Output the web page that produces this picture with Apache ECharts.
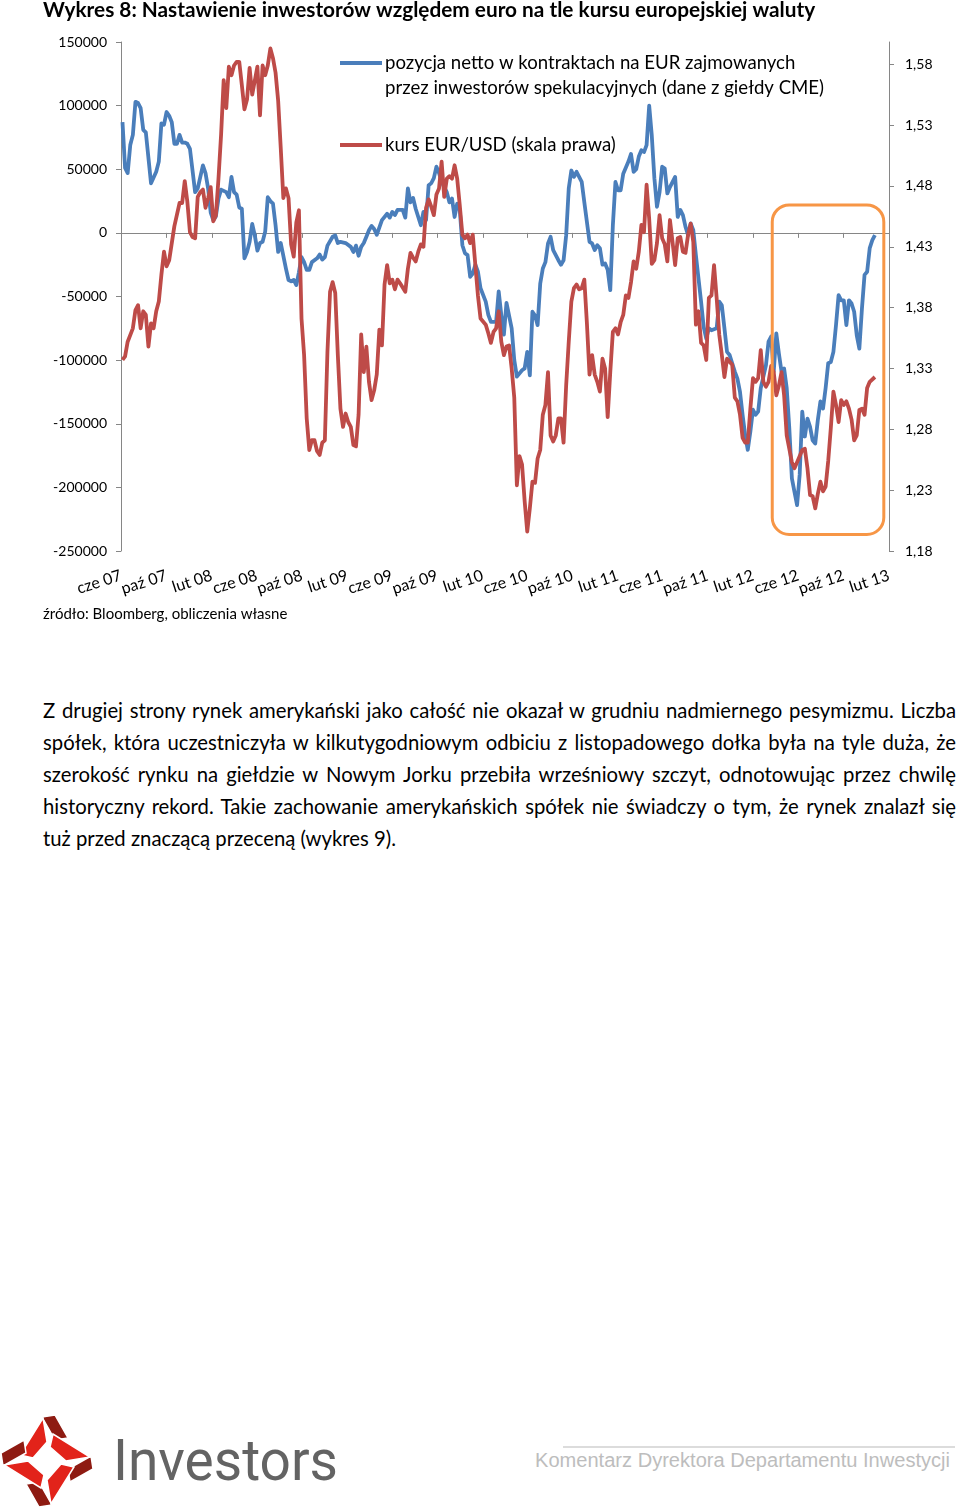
<!DOCTYPE html>
<html>
<head>
<meta charset="utf-8">
<title>Wykres 8</title>
<script src="https://cdn.jsdelivr.net/npm/echarts@6/dist/echarts.min.js"></script>
<style>
body{margin:0;width:960px;height:1509px;background:#fff;position:relative;overflow:hidden;font-family:Lato,"Noto Sans",sans-serif;}
#wykres{position:absolute;left:0;top:0;width:960px;height:640px;}
.tekst{position:absolute;left:43px;top:694px;width:913px;font-size:20.3px;line-height:32px;color:#000;}
.tekst div{text-align:justify;text-align-last:justify;white-space:nowrap;}
.tekst div.ost{text-align-last:left;}
#logo{position:absolute;left:0;top:1405px;}
#stopka{position:absolute;left:520px;top:1430px;}
</style>
</head>
<body>
<div id="wykres"></div>
<div class="tekst">
  <div>Z drugiej strony rynek amerykański jako całość nie okazał w grudniu nadmiernego pesymizmu. Liczba</div>
  <div>spółek, która uczestniczyła w kilkutygodniowym odbiciu z listopadowego dołka była na tyle duża, że</div>
  <div>szerokość rynku na giełdzie w Nowym Jorku przebiła wrześniowy szczyt, odnotowując przez chwilę</div>
  <div>historyczny rekord. Takie zachowanie amerykańskich spółek nie świadczy o tym, że rynek znalazł się</div>
  <div class="ost">tuż przed znaczącą przeceną (wykres 9).</div>
</div>
<svg id="logo" width="350" height="104">
  <g transform="translate(47,56)" stroke="#fff" stroke-width="1.5">
    <g><polygon points="-5,-44 8,-46 21,-23 8,-21" fill="#8E1B12"/><polygon points="-4,-43 -27,-6 -14,-3 0,-19" fill="#E2231A"/></g>
    <g transform="rotate(90)"><polygon points="-5,-44 8,-46 21,-23 8,-21" fill="#8E1B12"/><polygon points="-4,-43 -27,-6 -14,-3 0,-19" fill="#E2231A"/></g>
    <g transform="rotate(180)"><polygon points="-5,-44 8,-46 21,-23 8,-21" fill="#8E1B12"/><polygon points="-4,-43 -27,-6 -14,-3 0,-19" fill="#E2231A"/></g>
    <g transform="rotate(270)"><polygon points="-5,-44 8,-46 21,-23 8,-21" fill="#8E1B12"/><polygon points="-4,-43 -27,-6 -14,-3 0,-19" fill="#E2231A"/></g>
  </g>
  <text x="113" y="75" font-family="Roboto" font-size="58" fill="#636363" textLength="225" lengthAdjust="spacingAndGlyphs">Investors</text>
</svg>
<svg id="stopka" width="440" height="60">
  <line x1="43" y1="17" x2="435" y2="17" stroke="#dcdcdc" stroke-width="2"/>
  <text x="15" y="37" font-family="Liberation Sans" font-size="19.5" fill="#bdbdbd" textLength="415" lengthAdjust="spacingAndGlyphs">Komentarz Dyrektora Departamentu Inwestycji</text>
</svg>
<script>
// tygodnie liczone od 2007-06-05 (dane tygodniowe)
var blueWeek = [0,1,2,3,4,5,6,7,8,9,11,13,14,15,16,17,18,19,20,21,22,23,24,25,26,28,29,31,32,33,34,35,36,37,38,40,41,42,43,44,45,46,47,48,49,50,51,52,53,54,55,56,57,58,59,60,61,62,63,64,65,66,67,68,69,70,71,72,73,75,76,77,78,79,81,82,83,84,86,88,89,90,91,92,93,94,95,96,97,98,100,102,103,104,105,106,108,109,110,111,112,113,115,116,117,118,119,120,121,122,123,125,126,127,128,129,130,131,132,133,134,135,136,137,138,140,141,142,144,145,146,147,148,150,151,152,154,155,156,157,158,159,160,161,162,163,164,165,166,168,169,170,171,172,173,174,175,177,178,179,180,181,182,183,184,185,186,187,188,189,190,191,192,193,195,196,197,198,199,200,201,202,203,204,205,206,207,208,209,210,211,213,214,215,216,217,218,219,220,221,223,224,225,226,227,229,230,231,232,233,234,236,237,238,239,240,241,242,243,244,245,246,248,249,250,251,252,253,254,255,256,257,258,259,260,261,262,263,264,265,266,267,268,269,270,271,272,273,274,275,276,277,278,279,280,281,282,283,284,285,286,287,288,289,290];
var blueVal = [87000,51000,47000,69000,77000,103000,102000,98000,81000,79000,39000,48000,56000,86000,85000,95000,92000,87000,70000,70000,77000,71000,71000,70000,66000,32000,35000,53000,47000,35000,16000,10000,13000,27000,34000,32000,28000,44000,32000,30000,20000,19000,-20000,-15000,-7000,7000,-2000,-14000,-8000,-7000,1000,28000,25000,23000,6000,-15000,-8000,-18000,-28000,-37000,-38000,-37000,-41000,-31000,-19000,-23000,-29000,-29000,-23000,-20000,-17000,-21000,-19000,-10000,-3000,-2000,-8000,-7000,-8000,-11000,-15000,-10000,-18000,-11000,-8000,-3000,2000,5500,3000,-1500,10000,15000,12000,16500,14000,18000,18000,12000,35000,24000,27500,19000,6000,16500,10000,37500,39000,43000,52000,47000,40000,32000,24000,27000,12500,23000,18000,-9700,-16000,-17500,-34500,-32000,-25000,-30500,-43500,-54000,-64500,-70000,-70000,-46000,-64500,-80000,-55000,-75000,-100000,-113000,-108000,-106500,-93500,-112000,-62000,-65000,-72500,-40000,-28000,-23000,-8300,-3100,-13500,-21500,-25000,-21500,-2000,35000,49000,44000,48000,40000,24000,8600,-7000,-8300,-13500,-9700,-12000,-25000,-24000,-29000,-45000,6000,40000,33500,33500,46500,56000,62000,48000,50000,60000,65000,63500,69000,100000,76500,43000,20500,32000,52000,50500,31000,36000,44000,12500,18000,14000,4700,-1800,7400,2100,-17500,-54000,-74000,-83000,-75000,-76500,-75000,-54000,-57000,-75000,-93500,-96000,-109000,-114500,-125000,-143000,-159000,-170500,-156000,-139000,-143000,-140500,-122000,-104000,-85500,-81500,-109000,-79000,-95000,-109000,-106500,-122000,-153500,-193000,-203500,-214000,-190000,-140500,-160000,-146000,-152500,-163000,-165500,-147000,-132500,-138000,-122000,-102500,-101500,-93500,-72500,-49000,-53000,-53000,-72500,-53000,-55500,-62000,-80500,-91000,-59500,-33000,-30500,-12000,-5700,-1800];

var redWeek = [0,1,2,4,5,6,7,8,9,10,11,12,13,14,15,16,17,18,19,20,22,23,24,25,26,27,28,29,30,31,32,33,34,35,36,37,38,39,40,41,42,43,44,45,46,47,48,49,50,52,53,54,55,56,57,58,59,60,61,62,63,64,65,66,67,68,69,70,71,72,73,74,75,76,77,78,79,80,81,82,83,84,85,86,87,88,89,90,91,92,93,94,95,96,97,98,99,100,101,102,103,104,105,106,107,109,110,111,112,113,114,115,116,117,118,119,120,121,122,123,124,125,126,127,128,129,130,131,132,133,134,135,136,137,138,140,141,142,143,144,145,146,147,148,149,150,151,152,153,154,155,156,157,158,159,160,161,162,163,164,165,166,167,168,169,170,171,172,173,174,175,176,177,178,179,180,181,182,183,184,185,186,187,188,189,190,191,192,193,194,195,196,197,198,199,200,201,202,203,204,205,206,207,208,209,210,211,212,213,214,215,216,217,218,219,220,221,222,223,224,225,226,227,228,229,230,231,232,233,235,236,237,238,239,240,241,242,243,244,245,246,247,248,249,250,251,252,253,254,255,256,258,259,260,262,263,264,265,266,267,268,269,270,271,272,273,274,275,276,277,278,279,280,281,282,283,284,285,286,287,288,290];
var redVal = [1.337,1.340,1.352,1.363,1.378,1.382,1.363,1.377,1.374,1.348,1.367,1.363,1.377,1.385,1.407,1.426,1.414,1.419,1.433,1.447,1.466,1.466,1.484,1.467,1.442,1.438,1.437,1.471,1.475,1.477,1.462,1.470,1.479,1.451,1.456,1.486,1.522,1.567,1.544,1.578,1.571,1.579,1.582,1.582,1.563,1.543,1.551,1.577,1.555,1.578,1.538,1.579,1.571,1.579,1.593,1.585,1.573,1.550,1.511,1.470,1.478,1.470,1.432,1.422,1.450,1.460,1.371,1.341,1.289,1.263,1.271,1.271,1.262,1.259,1.269,1.271,1.344,1.393,1.401,1.392,1.341,1.297,1.282,1.293,1.286,1.282,1.267,1.266,1.292,1.358,1.327,1.348,1.319,1.304,1.312,1.325,1.362,1.349,1.399,1.415,1.400,1.403,1.395,1.403,1.400,1.393,1.412,1.425,1.421,1.418,1.426,1.432,1.430,1.462,1.469,1.463,1.456,1.473,1.478,1.500,1.471,1.486,1.488,1.486,1.497,1.486,1.464,1.440,1.437,1.440,1.433,1.440,1.415,1.390,1.371,1.366,1.359,1.351,1.360,1.363,1.377,1.352,1.341,1.348,1.349,1.330,1.306,1.234,1.258,1.251,1.221,1.196,1.215,1.237,1.236,1.256,1.263,1.292,1.300,1.327,1.275,1.270,1.275,1.289,1.289,1.269,1.316,1.352,1.385,1.396,1.399,1.395,1.396,1.403,1.367,1.325,1.341,1.325,1.319,1.311,1.338,1.330,1.290,1.327,1.360,1.363,1.358,1.368,1.374,1.390,1.388,1.401,1.418,1.412,1.426,1.448,1.442,1.481,1.453,1.416,1.419,1.433,1.456,1.437,1.432,1.418,1.452,1.434,1.415,1.437,1.438,1.426,1.425,1.440,1.449,1.434,1.366,1.377,1.351,1.349,1.337,1.388,1.390,1.415,1.388,1.358,1.341,1.323,1.338,1.333,1.306,1.303,1.292,1.273,1.269,1.269,1.297,1.322,1.319,1.322,1.345,1.319,1.315,1.319,1.332,1.327,1.308,1.316,1.327,1.308,1.275,1.253,1.248,1.253,1.263,1.264,1.248,1.226,1.225,1.215,1.227,1.237,1.229,1.233,1.254,1.281,1.311,1.300,1.286,1.304,1.300,1.303,1.297,1.288,1.271,1.275,1.296,1.297,1.292,1.314,1.319,1.323];

var tickDates = ['2007-06-01','2007-10-01','2008-02-01','2008-06-01','2008-10-01','2009-02-01','2009-06-01','2009-10-01','2010-02-01','2010-06-01','2010-10-01','2011-02-01','2011-06-01','2011-10-01','2012-02-01','2012-06-01','2012-10-01','2013-02-01'];
var tickLabels = ['cze 07','paź 07','lut 08','cze 08','paź 08','lut 09','cze 09','paź 09','lut 10','cze 10','paź 10','lut 11','cze 11','paź 11','lut 12','cze 12','paź 12','lut 13'];
var rightTicks = [1.18,1.23,1.28,1.33,1.38,1.43,1.48,1.53,1.58];

var blueName = 'pozycja netto w kontraktach na EUR zajmowanych przez inwestorów spekulacyjnych (dane z giełdy CME)';
var redName = 'kurs EUR/USD (skala prawa)';

// zaznaczenie ostatnich miesięcy (ramka)
var ramka = {od:'2012-03-23', do:'2013-01-18', gora:22000, dol:-237000};

var START = Date.UTC(2007, 5, 5);
var TYDZIEN = 7 * 864e5;
var tickTs = tickDates.map(function (d) { return Date.parse(d); });
var tMin = tickTs[0], tMax = tickTs[tickTs.length - 1];
function etykieta(v) {
  var i = tickTs.indexOf(v);
  return i < 0 ? '' : tickLabels[i];
}
// etykiety rozdzielone na dwie osie (co druga), żeby ECharts nie ukrywał skrajnych
var tickParz = tickTs.filter(function (t, i) { return i % 2 === 0; });
var tickNieparz = tickTs.filter(function (t, i) { return i % 2 === 1; });

var blueData = blueWeek.map(function (w, i) { return [START + w * TYDZIEN, blueVal[i]]; });
var redData = redWeek.map(function (w, i) { return [START + w * TYDZIEN, redVal[i]]; });

var szary = '#868686';
var myChart = echarts.init(document.getElementById('wykres'));

function osEtykiet(wartosci) {
  return {
    type: 'value', min: tMin, max: tMax, position: 'bottom',
    axisLine: {show: false, onZero: false},
    axisTick: {show: false},
    axisLabel: {customValues: wartosci, formatter: etykieta, rotate: 18, margin: 24, fontSize: 16, color: '#000', fontFamily: 'Lato', hideOverlap: false},
    splitLine: {show: false}
  };
}

function legenda(box) {
  var g = [
    {id:'lb', type:'line', shape:{x1:340, y1:63, x2:382, y2:63}, style:{stroke:'#4A7EBB', lineWidth:4}},
    {id:'tb1', type:'text', style:{text:'pozycja netto w kontraktach na EUR zajmowanych', x:385, y:63, font:'18.6px Lato', fill:'#000', verticalAlign:'middle'}},
    {id:'tb2', type:'text', style:{text:'przez inwestorów spekulacyjnych (dane z giełdy CME)', x:385, y:88, font:'18.6px Lato', fill:'#000', verticalAlign:'middle'}},
    {id:'lr', type:'line', shape:{x1:340, y1:145, x2:382, y2:145}, style:{stroke:'#BE4B48', lineWidth:4}},
    {id:'tr', type:'text', style:{text:redName, x:385, y:145, font:'18.6px Lato', fill:'#000', verticalAlign:'middle'}},
    {id:'zr', type:'text', style:{text:'źródło: Bloomberg, obliczenia własne', x:43, y:614, font:'15px Lato', fill:'#000', verticalAlign:'middle'}}
  ];
  if (box) g.push(box);
  return g;
}

var option = {
  animation: false,
  textStyle: {fontFamily: 'Lato'},
  title: {
    text: 'Wykres 8: Nastawienie inwestorów względem euro na tle kursu europejskiej waluty',
    left: 43, top: 0, padding: 0,
    textStyle: {fontSize: 20.8, fontWeight: 'bold', color: '#000', fontFamily: 'Lato'}
  },
  grid: {left: 121, right: 71, top: 42, bottom: 89},
  xAxis: [
    {
      type: 'value', min: tMin, max: tMax, position: 'bottom',
      axisLine: {onZero: true, onZeroAxisIndex: 0, lineStyle: {color: szary, width: 1}},
      axisTick: {customValues: tickTs, length: 5, lineStyle: {color: szary}},
      axisLabel: {show: false},
      splitLine: {show: false}
    },
    osEtykiet(tickParz),
    osEtykiet(tickNieparz)
  ],
  yAxis: [
    {
      type: 'value', min: -250000, max: 150000, interval: 50000, position: 'left',
      axisLine: {show: true, onZero: false, lineStyle: {color: szary}},
      axisTick: {show: true, length: 5, lineStyle: {color: szary}},
      axisLabel: {formatter: function (v) { return String(v); }, fontSize: 14, margin: 14, color: '#000', fontFamily: 'Lato'},
      splitLine: {show: false}
    },
    {
      type: 'value', min: 1.18, max: 1.5983, position: 'right',
      axisLine: {show: true, onZero: false, lineStyle: {color: szary}},
      axisTick: {show: true, length: 5, customValues: rightTicks, lineStyle: {color: szary}},
      axisLabel: {customValues: rightTicks, formatter: function (v) { return v.toFixed(2).replace('.', ','); }, fontSize: 14, margin: 16, color: '#000', fontFamily: 'Lato'},
      splitLine: {show: false}
    }
  ],
  series: [
    {
      name: blueName, type: 'line', xAxisIndex: 0, yAxisIndex: 0, data: blueData,
      symbol: 'none', lineStyle: {width: 3.8, color: '#4A7EBB', join: 'round'}, z: 2
    },
    {
      name: redName, type: 'line', xAxisIndex: 0, yAxisIndex: 1, data: redData,
      symbol: 'none', lineStyle: {width: 3.8, color: '#BE4B48', join: 'round'}, z: 3
    }
  ],
  graphic: legenda()
};
myChart.setOption(option);

// ramka liczona z osi wykresu
var p1 = myChart.convertToPixel({xAxisIndex: 0, yAxisIndex: 0}, [Date.parse(ramka.od), ramka.gora]);
var p2 = myChart.convertToPixel({xAxisIndex: 0, yAxisIndex: 0}, [Date.parse(ramka.do), ramka.dol]);
myChart.setOption({
  graphic: legenda({
    id: 'ramka', type: 'rect', z: 10,
    shape: {x: p1[0], y: p1[1], width: p2[0] - p1[0], height: p2[1] - p1[1], r: 17},
    style: {fill: 'none', stroke: '#F79646', lineWidth: 3}
  })
});
</script>
</body>
</html>
